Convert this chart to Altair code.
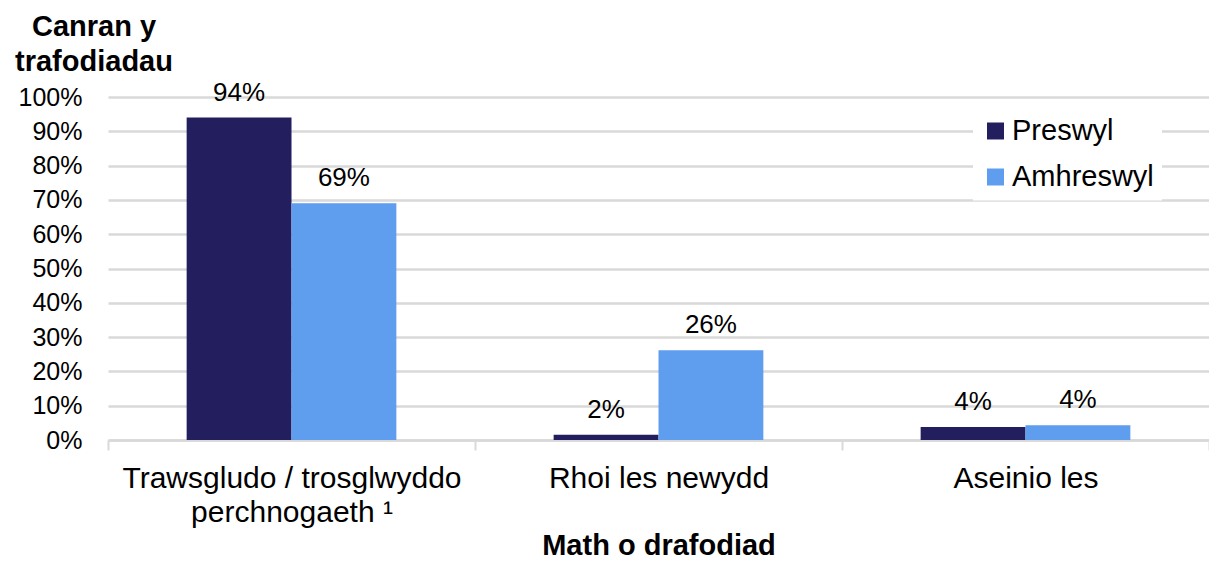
import altair as alt
import pandas as pd

categories = ["Trawsgludo / trosglwyddo perchnogaeth ¹", "Rhoi les newydd", "Aseinio les"]
category_lines = [["Trawsgludo / trosglwyddo", "perchnogaeth ¹"], ["Rhoi les newydd"], ["Aseinio les"]]
series = ["Preswyl", "Amhreswyl"]
preswyl = [94.0, 1.5, 3.8]
amhreswyl = [69.0, 26.2, 4.3]
preswyl_labels = ["94%", "2%", "4%"]
amhreswyl_labels = ["69%", "26%", "4%"]
colors = ["#231F5E", "#5F9DEF"]
y_ticks = [0, 10, 20, 30, 40, 50, 60, 70, 80, 90, 100]
y_title = ["Canran y", "trafodiadau"]
x_title = "Math o drafodiad"

rows = []
for i, c in enumerate(categories):
    rows.append(dict(cat=c, series=series[0], value=preswyl[i], label=preswyl_labels[i]))
    rows.append(dict(cat=c, series=series[1], value=amhreswyl[i], label=amhreswyl_labels[i]))
df = pd.DataFrame(rows)

parts = []
for c, lines in zip(categories, category_lines):
    arr = "[" + ",".join("'" + l + "'" for l in lines) + "]"
    parts.append(f"datum.value == '{c}' ? {arr} : ")
label_expr = "".join(parts) + "datum.label"

FONT = "Liberation Sans"
GRID = "#d9d9d9"

x_enc = alt.X(
    "cat:N",
    sort=categories,
    scale=alt.Scale(paddingInner=0, paddingOuter=0),
    axis=alt.Axis(
        title=x_title,
        labelExpr=label_expr,
        labelAngle=0,
        labelLimit=600,
        tickBand="extent",
        ticks=True,
        tickSize=10,
        tickColor=GRID,
        tickWidth=2,
        domainColor=GRID,
        domainWidth=2.5,
        labelFontSize=30,
        labelLineHeight=34,
        labelPadding=37,
        labelBaseline="alphabetic",
        labelColor="black",
        titleFontSize=29,
        titleFontWeight="bold",
        titleColor="black",
        titleY=114,
        titleBaseline="alphabetic",
        grid=False,
    ),
)
xoff_enc = alt.XOffset("series:N", sort=series, scale=alt.Scale(paddingOuter=0.75, paddingInner=0))
y_enc = alt.Y(
    "value:Q",
    scale=alt.Scale(domain=[0, 100]),
    axis=alt.Axis(
        values=y_ticks,
        labelExpr="datum.value + '%'",
        title=y_title,
        titleAngle=0,
        titleAlign="center",
        titleX=-14.5,
        titleY=-62,
        titleBaseline="alphabetic",
        titleFontSize=29,
        titleFontWeight="bold",
        titleColor="black",
        titleLineHeight=35,
        titleLimit=600,
        ticks=False,
        domain=False,
        labelPadding=26,
        labelFontSize=25,
        labelColor="black",
        gridColor=GRID,
        gridWidth=2.5,
    ),
)

bars = alt.Chart(df).mark_bar().encode(
    x=x_enc,
    xOffset=xoff_enc,
    y=y_enc,
    color=alt.Color(
        "series:N",
        sort=series,
        scale=alt.Scale(domain=series, range=colors),
        legend=alt.Legend(
            title=None,
            orient="none",
            legendX=865,
            legendY=11.5,
            fillColor="white",
            padding=8,
            symbolType="square",
            symbolSize=289,
            symbolStrokeWidth=0,
            labelFontSize=29,
            labelOffset=2,
            labelLimit=400,
            rowPadding=16,
            labelColor="black",
            direction="vertical",
        ),
    ),
)

text = alt.Chart(df).mark_text(
    dy=-17, baseline="alphabetic", fontSize=26, font=FONT, color="black"
).encode(
    x=x_enc,
    xOffset=xoff_enc,
    y=y_enc,
    text="label:N",
)

chart = alt.layer(bars, text).properties(
    width=1101,
    height=343,
    autosize=alt.AutoSizeParams(type="none"),
    padding={"left": 100, "top": 89, "right": 0, "bottom": 119},
).configure(font=FONT).configure_view(strokeWidth=0)

chart.save("out.html", embed_options={"renderer": "svg", "actions": False})
